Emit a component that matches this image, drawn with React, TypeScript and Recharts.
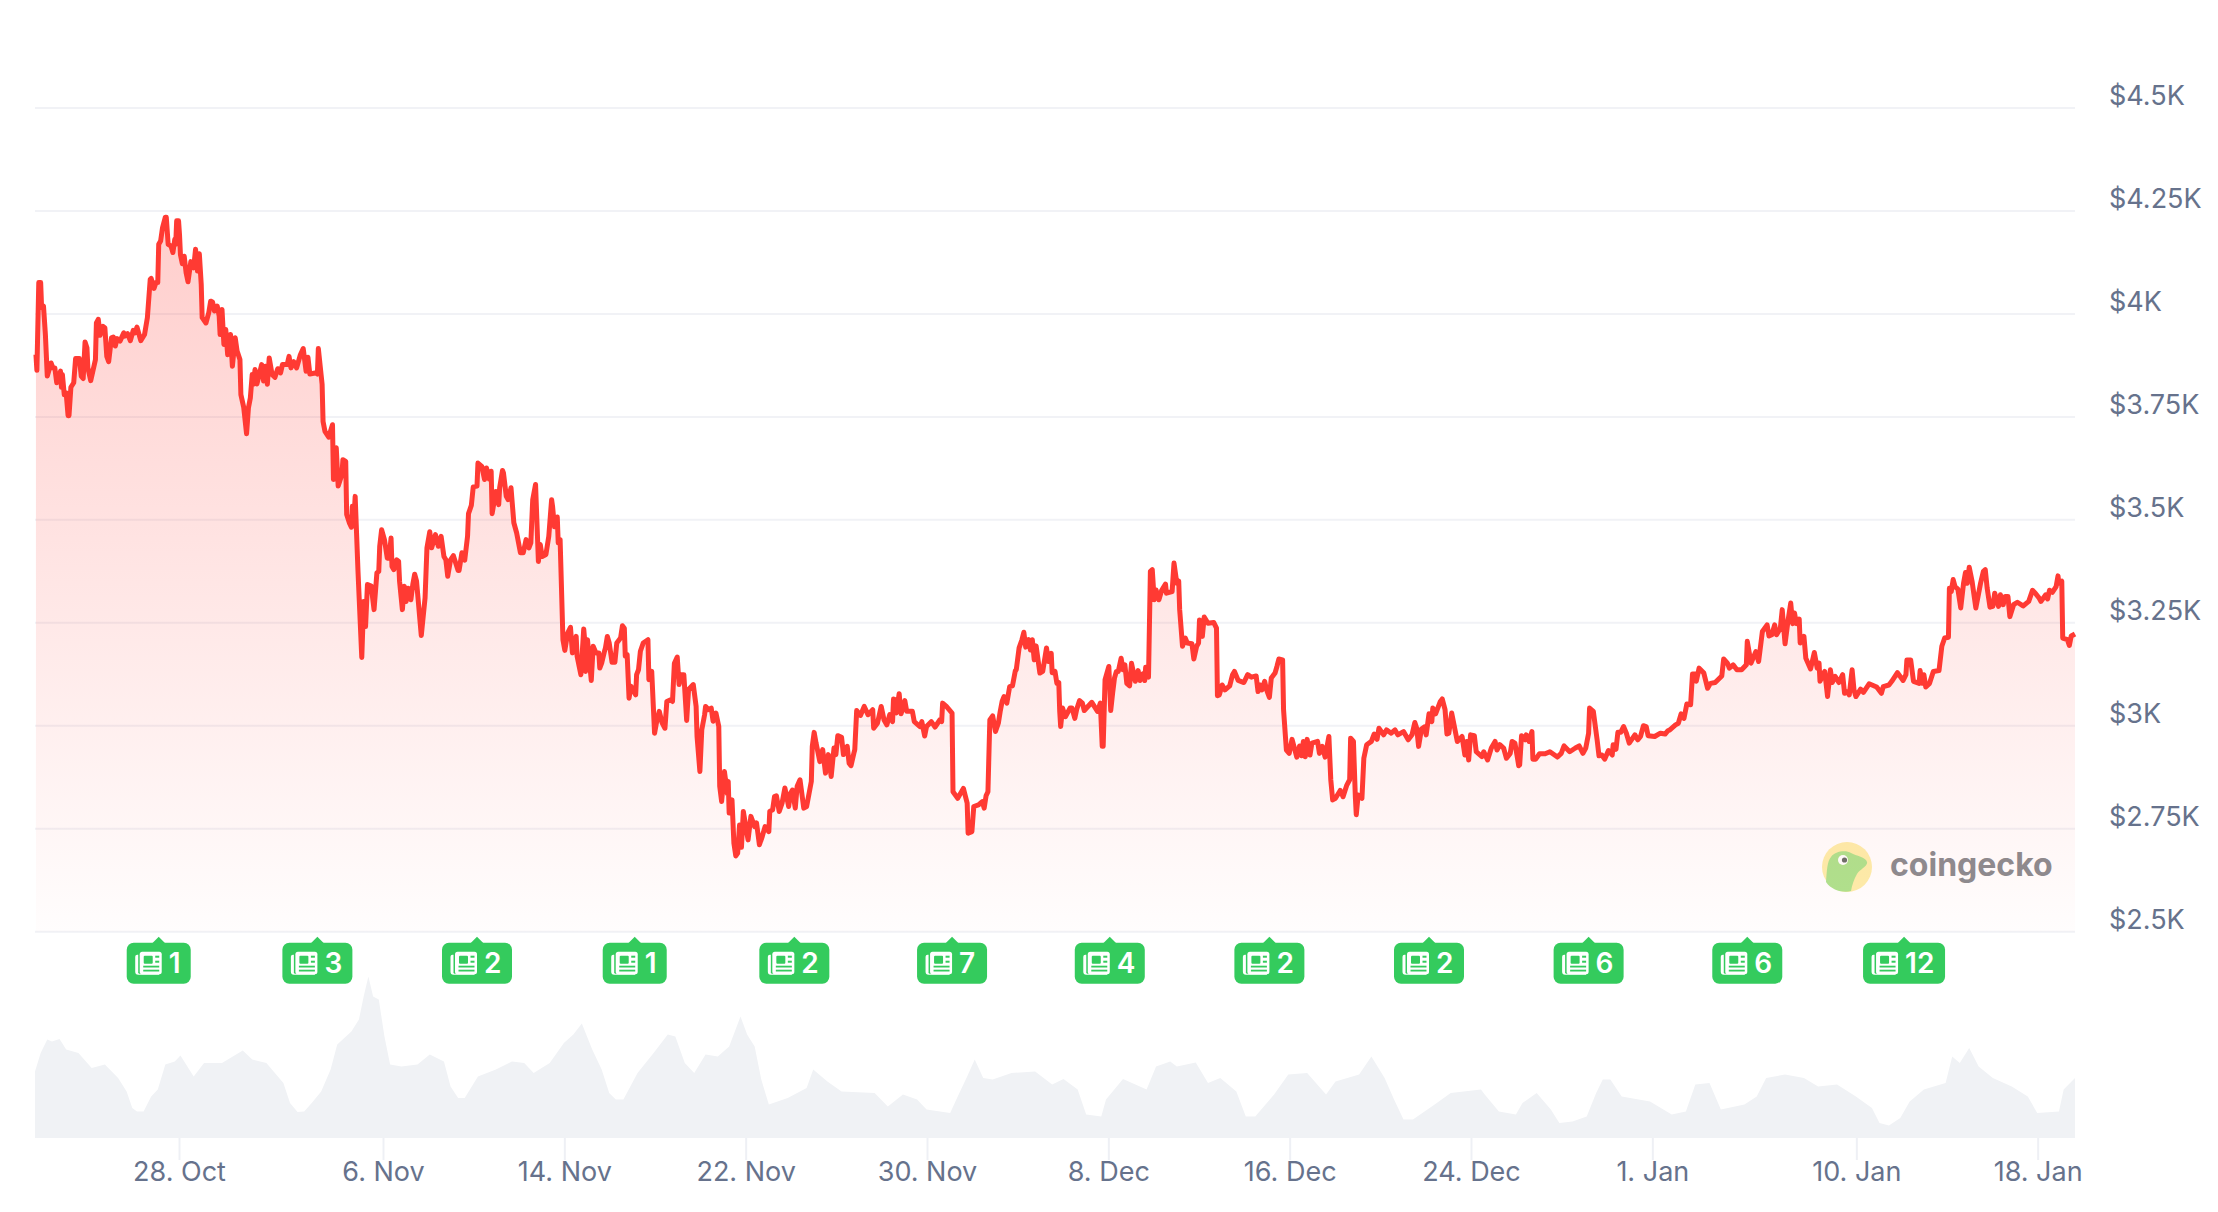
import { Area, CartesianGrid, ComposedChart, Scatter, XAxis, YAxis } from "recharts";

// [hours since the left edge of the chart, price in USD]
const priceFromOct22: [number, number][] = [
  [1, 3901], [2, 3863], [4, 4076], [6, 4076], [7, 4015], [9, 4019], [11, 3950], [13, 3849], [17, 3881], [19, 3869],
  [21, 3869], [23, 3833], [27, 3861], [28, 3822], [29, 3853], [31, 3804], [33, 3808], [35, 3753], [36, 3753], [38, 3822],
  [41, 3833], [43, 3892], [47, 3892], [49, 3849], [51, 3843], [53, 3932], [55, 3918], [56, 3869], [59, 3838], [64, 3889],
  [65, 3978], [67, 3987], [69, 3948], [72, 3970], [74, 3966], [76, 3897], [78, 3884], [81, 3942], [83, 3944], [85, 3922],
  [87, 3940], [90, 3934], [94, 3954], [95, 3946], [98, 3952], [101, 3935], [104, 3960], [106, 3954], [108, 3968], [112, 3935],
  [116, 3950], [119, 3991], [122, 4084], [123, 4086], [126, 4062], [128, 4076], [130, 4076], [131, 4169], [133, 4177], [135, 4209],
  [138, 4235], [139, 4235], [141, 4169], [144, 4165], [146, 4149], [148, 4181], [149, 4169], [150, 4226], [152, 4226], [153, 4193],
  [154, 4144], [156, 4122], [158, 4140], [160, 4100], [162, 4078], [165, 4127], [168, 4112], [170, 4157], [172, 4104], [174, 4146],
  [176, 4072], [177, 3991], [181, 3978], [184, 4003], [186, 4031], [188, 4029], [190, 4007], [193, 4019], [195, 3995], [196, 3950],
  [198, 4011], [200, 3926], [202, 3962], [204, 3901], [207, 3950], [209, 3873], [212, 3942], [214, 3910], [217, 3889], [218, 3804],
  [221, 3773], [224, 3709], [226, 3772], [228, 3796], [230, 3853], [231, 3829], [233, 3865], [235, 3830], [240, 3877], [242, 3837],
  [244, 3873], [246, 3829], [248, 3893], [251, 3853], [254, 3846], [257, 3867], [260, 3857], [262, 3877], [267, 3877], [269, 3897],
  [271, 3869], [274, 3884], [277, 3869], [281, 3901], [284, 3916], [287, 3861], [289, 3895], [291, 3854], [298, 3857], [299, 3854],
  [300, 3916], [304, 3829], [305, 3739], [307, 3715], [311, 3701], [315, 3731], [316, 3598], [319, 3675], [321, 3582], [325, 3610],
  [326, 3646], [329, 3642], [330, 3513], [333, 3492], [335, 3482], [336, 3533], [338, 3513], [339, 3557], [342, 3375], [346, 3166],
  [348, 3302], [350, 3241], [352, 3343], [356, 3339], [359, 3282], [362, 3371], [364, 3375], [365, 3436], [367, 3476], [370, 3452],
  [373, 3407], [375, 3407], [377, 3456], [378, 3387], [380, 3379], [383, 3403], [385, 3399], [386, 3351], [389, 3282], [391, 3339],
  [393, 3302], [395, 3334], [398, 3306], [400, 3343], [402, 3368], [404, 3351], [409, 3219], [413, 3310], [415, 3432], [418, 3471],
  [420, 3432], [424, 3464], [427, 3436],
];

const priceFromNov8: [number, number][] = [
  [430, 3460], [433, 3411], [435, 3403], [437, 3363], [440, 3403], [443, 3413], [448, 3377], [449, 3377], [452, 3420], [455, 3402],
  [458, 3460], [459, 3515], [462, 3535], [464, 3580], [468, 3582], [469, 3638], [473, 3630], [476, 3598], [478, 3626], [481, 3599],
  [483, 3618], [484, 3515], [488, 3569], [491, 3537], [492, 3578], [495, 3620], [496, 3614], [499, 3557], [501, 3549], [504, 3578],
  [507, 3493], [510, 3468], [514, 3420], [517, 3420], [520, 3452], [523, 3432], [525, 3444], [527, 3549], [530, 3586], [533, 3399],
  [535, 3440], [537, 3411], [541, 3416], [544, 3460], [547, 3549], [548, 3533], [550, 3483], [553, 3507], [554, 3444], [556, 3452],
  [559, 3209], [561, 3183], [564, 3225], [567, 3239], [569, 3177], [573, 3217], [574, 3169], [578, 3124], [581, 3235], [582, 3209],
  [583, 3132], [585, 3209], [589, 3110], [591, 3193], [594, 3177], [597, 3177], [598, 3140], [600, 3152], [603, 3181], [604, 3189],
  [606, 3217], [608, 3201], [611, 3154], [613, 3169], [614, 3154], [616, 3201], [620, 3213], [622, 3243], [624, 3237], [625, 3169],
  [627, 3173], [629, 3067], [631, 3096], [636, 3075], [637, 3124], [639, 3136], [641, 3181], [644, 3201], [649, 3209], [650, 3112],
  [653, 3132], [656, 2982], [658, 3007], [661, 3035], [664, 3007], [667, 2994], [669, 3059], [673, 3063], [675, 3059], [677, 3152],
  [680, 3167], [682, 3100], [684, 3124], [687, 3124], [690, 3013], [692, 3088], [697, 3100], [700, 3047], [701, 2974], [704, 2889],
  [706, 2990], [709, 3027], [710, 3047], [713, 3039], [716, 3043], [718, 3011], [721, 3031], [724, 2998], [725, 2853], [727, 2816],
  [730, 2889], [733, 2836], [734, 2865], [735, 2788], [738, 2820], [740, 2715], [742, 2684], [744, 2691], [746, 2759], [748, 2705],
  [750, 2792], [752, 2764], [755, 2723], [758, 2780], [762, 2755], [764, 2764], [767, 2711], [770, 2731], [773, 2755], [777, 2743],
  [778, 2792], [781, 2796], [783, 2828], [785, 2830], [788, 2792], [791, 2812], [794, 2849], [798, 2804], [800, 2836], [802, 2844],
  [805, 2800], [807, 2853], [810, 2869], [814, 2800], [817, 2804], [822, 2865], [823, 2950], [825, 2984], [827, 2958], [831, 2913],
  [834, 2942], [837, 2885], [840, 2930], [843, 2877], [846, 2946], [848, 2930], [850, 2976], [854, 2972], [856, 2930], [860, 2950],
  [862, 2909],
];

const priceFromNov26: [number, number][] = [
  [864, 2903], [867, 2933], [868, 2942], [870, 3037], [874, 3025], [878, 3047], [882, 3027], [887, 3039], [888, 2994], [892, 3006],
  [896, 3047], [899, 3014], [902, 3002], [905, 3027], [908, 3010], [909, 3065], [911, 3063], [912, 3031], [915, 3078], [917, 3029],
  [921, 3061], [923, 3035], [929, 3035], [931, 3010], [937, 2998], [939, 3010], [942, 2975], [944, 2998], [949, 3010], [953, 2997],
  [958, 3014], [960, 3010], [961, 3055], [965, 3047], [971, 3031], [972, 2840], [977, 2824], [983, 2848], [987, 2812], [988, 2739],
  [992, 2743], [994, 2804], [999, 2808], [1003, 2816], [1005, 2800], [1007, 2830], [1009, 2840], [1011, 3014], [1014, 3024], [1017, 2986],
  [1020, 3006], [1022, 3035], [1024, 3059], [1026, 3071], [1029, 3055], [1032, 3095], [1035, 3097], [1038, 3134], [1039, 3136], [1042, 3189],
  [1045, 3209], [1047, 3227], [1049, 3191], [1052, 3209], [1054, 3184], [1056, 3209], [1058, 3160], [1060, 3194], [1064, 3128], [1067, 3132],
  [1071, 3189], [1073, 3156], [1076, 3176], [1077, 3129], [1080, 3132], [1082, 3103], [1084, 3105], [1085, 3035], [1086, 2998], [1088, 3043],
  [1091, 3022], [1096, 3043], [1098, 3043], [1101, 3018], [1103, 3040], [1106, 3061], [1109, 3055], [1111, 3037], [1119, 3057], [1125, 3035],
  [1128, 3055], [1130, 2950], [1131, 2950], [1133, 3112], [1137, 3144], [1139, 3037], [1141, 3079], [1143, 3116], [1145, 3132], [1147, 3132],
  [1150, 3164], [1152, 3136], [1154, 3148], [1156, 3103], [1159, 3097], [1161, 3152], [1165, 3108], [1168, 3134], [1170, 3110], [1173, 3126],
  [1175, 3110], [1176, 3142], [1179, 3118], [1181, 3375], [1183, 3379], [1185, 3306], [1187, 3330], [1190, 3306], [1193, 3329], [1197, 3344],
  [1198, 3322], [1204, 3326], [1206, 3395], [1209, 3346], [1211, 3351], [1212, 3282], [1215, 3193], [1218, 3213], [1220, 3201], [1225, 3199],
  [1227, 3162], [1230, 3193], [1232, 3201], [1233, 3257], [1236, 3217], [1238, 3264], [1242, 3249], [1248, 3251], [1251, 3237], [1252, 3073],
  [1254, 3075], [1257, 3099], [1260, 3087], [1265, 3097], [1268, 3124], [1270, 3132], [1274, 3110], [1280, 3105], [1284, 3124], [1288, 3118],
  [1293, 3121], [1295, 3083],
];

const priceFromDec14: [number, number][] = [
  [1297, 3099], [1299, 3087], [1302, 3108], [1304, 3087], [1307, 3069], [1309, 3116], [1313, 3128], [1315, 3144], [1317, 3162], [1321, 3160],
  [1322, 3039], [1325, 2941], [1328, 2933], [1331, 2967], [1333, 2950], [1336, 2924], [1339, 2951], [1341, 2927], [1343, 2962], [1345, 2925],
  [1347, 2967], [1350, 2929], [1352, 2958], [1358, 2962], [1360, 2933], [1363, 2950], [1366, 2924], [1370, 2974], [1372, 2869], [1374, 2820],
  [1377, 2824], [1382, 2843], [1385, 2828], [1389, 2856], [1392, 2869], [1393, 2970], [1396, 2962], [1398, 2828], [1399, 2784], [1401, 2832],
  [1405, 2824], [1407, 2921], [1410, 2954], [1415, 2962], [1418, 2980], [1421, 2967], [1423, 2994], [1428, 2978], [1431, 2990], [1436, 2982],
  [1440, 2990], [1443, 2978], [1449, 2986], [1454, 2966], [1458, 2978], [1461, 3008], [1463, 2994], [1465, 2950], [1468, 2992], [1471, 2997],
  [1473, 2978], [1476, 3029], [1479, 3010], [1480, 3043], [1483, 3029], [1488, 3059], [1490, 3065], [1493, 3039], [1495, 2980], [1497, 2982],
  [1500, 3031], [1506, 2962], [1511, 2974], [1514, 2929], [1516, 2962], [1518, 2917], [1520, 2978], [1524, 2976], [1526, 2937], [1532, 2925],
  [1534, 2937], [1538, 2917], [1542, 2946], [1546, 2962], [1548, 2941], [1551, 2954], [1555, 2946], [1558, 2921], [1562, 2933], [1564, 2962],
  [1567, 2958], [1571, 2903], [1572, 2905], [1574, 2976], [1578, 2966], [1579, 2978], [1582, 2962], [1585, 2986], [1586, 2919], [1589, 2919],
  [1593, 2932], [1599, 2932], [1604, 2937], [1612, 2924], [1616, 2933], [1619, 2951], [1625, 2937], [1631, 2946], [1635, 2951], [1639, 2933],
  [1642, 2946], [1645, 2982], [1646, 3043], [1650, 3035], [1654, 2966], [1656, 2927], [1659, 2929], [1662, 2919], [1666, 2940], [1670, 2929],
  [1671, 2954], [1674, 2943], [1676, 2984], [1679, 2984], [1682, 2998], [1685, 2982], [1688, 2958], [1694, 2978], [1697, 2966], [1700, 2974],
  [1703, 3000], [1706, 2998], [1708, 2976], [1715, 2974], [1721, 2982], [1726, 2980], [1729, 2988],
];

const priceFromJan2: [number, number][] = [
  [1731, 2990], [1737, 3002], [1740, 3006], [1743, 3029], [1746, 3018], [1749, 3053], [1753, 3051], [1755, 3126], [1758, 3126], [1759, 3108],
  [1762, 3140], [1767, 3128], [1771, 3091], [1774, 3103], [1779, 3105], [1786, 3121], [1788, 3162], [1792, 3152], [1794, 3140], [1798, 3148],
  [1802, 3136], [1807, 3136], [1812, 3148], [1813, 3205], [1817, 3152], [1822, 3180], [1825, 3156], [1829, 3229], [1834, 3245], [1836, 3218],
  [1839, 3221], [1842, 3245], [1844, 3221], [1848, 3237], [1850, 3282], [1853, 3199], [1856, 3253], [1859, 3298], [1861, 3248], [1863, 3274],
  [1865, 3248], [1868, 3259], [1869, 3201], [1873, 3217], [1875, 3164], [1880, 3138], [1884, 3178], [1887, 3140], [1889, 3152], [1890, 3108],
  [1895, 3132], [1898, 3071], [1901, 3136], [1903, 3105], [1906, 3120], [1910, 3105], [1914, 3124], [1916, 3079], [1919, 3083], [1921, 3075],
  [1924, 3136], [1926, 3087], [1928, 3071], [1933, 3089], [1936, 3081], [1942, 3102], [1950, 3094], [1955, 3079], [1957, 3095], [1963, 3099],
  [1966, 3108], [1972, 3129], [1978, 3110], [1981, 3124], [1982, 3160], [1986, 3160], [1989, 3108], [1995, 3103], [1996, 3134], [1998, 3103],
  [2000, 3124], [2002, 3094], [2006, 3103], [2010, 3132], [2016, 3134], [2019, 3193], [2022, 3213], [2026, 3215], [2027, 3334], [2029, 3326],
  [2031, 3355], [2033, 3338], [2036, 3332], [2039, 3286], [2042, 3346], [2044, 3372], [2046, 3346], [2048, 3385], [2051, 3351], [2055, 3286],
  [2060, 3346], [2063, 3375], [2065, 3379], [2067, 3334], [2070, 3288], [2073, 3290], [2075, 3322], [2079, 3290], [2081, 3318], [2084, 3294],
  [2086, 3314], [2089, 3314], [2091, 3265], [2095, 3294], [2099, 3300], [2105, 3291], [2111, 3302], [2115, 3329], [2118, 3322], [2122, 3310],
  [2124, 3302], [2129, 3318], [2131, 3308], [2133, 3329], [2136, 3324], [2140, 3338], [2142, 3364], [2143, 3346], [2146, 3351], [2147, 3213],
  [2152, 3209], [2154, 3195], [2156, 3218], [2160, 3223],
];

// [hours since the left edge, volume in $B, estimated]
const volumeFromOct22: [number, number][] = [
  [0, 13.3], [6, 17], [13, 19.7], [18, 19.3], [26, 19.8], [33, 17.7], [46, 17], [60, 14], [74, 14.7], [88, 12],
  [97, 9.3], [103, 6], [108, 5.3], [115, 5.3], [123, 8.3], [130, 9.7], [138, 14.7], [148, 15.3], [154, 16.5], [168, 12.3],
  [179, 15], [198, 15], [220, 17.5], [230, 15.7], [245, 15], [263, 11], [270, 7], [278, 5.2], [285, 5.3], [293, 7],
  [303, 9.3], [313, 13.7], [320, 18.7], [335, 21.3], [343, 23.7], [348, 28.3], [353, 32.3], [358, 28.3], [364, 27.7], [370, 20.3],
  [376, 14.7], [388, 14.3], [405, 14.7], [418, 16.7], [433, 15.3], [440, 10.3], [448, 8], [455, 8], [469, 12.3], [488, 13.7],
  [505, 15.3], [518, 15], [528, 13], [545, 15], [560, 19], [570, 20.7], [579, 22.9], [590, 17.7], [600, 13.7], [608, 9],
  [615, 7.7], [623, 7.7], [638, 13], [655, 17], [670, 20.7], [678, 20.3], [688, 15], [698, 13], [710, 16.7], [723, 16.3],
  [735, 18.3], [747, 24.3],
];

const volumeFromNov22: [number, number][] = [
  [754, 20.7], [762, 18.3], [769, 11.7], [777, 6.7], [797, 8], [817, 10], [824, 13.7], [839, 11.3], [854, 9.3], [889, 9],
  [903, 6.3], [919, 8.7], [934, 7.7], [944, 5.7], [969, 5], [977, 8.3], [987, 12.3], [995, 15.7], [1004, 12], [1014, 11.7],
  [1034, 13], [1059, 13.3], [1077, 10.7], [1089, 11.8], [1104, 9.7], [1113, 4.7], [1129, 4.3], [1134, 7.7], [1152, 11.8], [1177, 9.7],
  [1187, 14.3], [1202, 15.3], [1209, 14.3], [1229, 15.1], [1242, 11], [1255, 12], [1272, 9.3], [1282, 4.3], [1292, 4.3], [1312, 8.7],
  [1327, 12.7], [1347, 13], [1367, 8.7], [1377, 11.3], [1402, 12.7], [1415, 16.3], [1429, 12], [1439, 7.7], [1449, 3.7], [1459, 3.7],
  [1482, 6.7], [1499, 9], [1531, 9.7],
];

const volumeFromDec24: [number, number][] = [
  [1535, 8.7], [1550, 5.3], [1568, 4.7], [1575, 7], [1590, 9], [1605, 5.7], [1614, 3], [1628, 3.3], [1643, 4.3], [1653, 9],
  [1660, 11.7], [1668, 11.7], [1680, 8.3], [1710, 7.3], [1733, 4.7], [1748, 5.3], [1758, 10.7], [1773, 11], [1785, 5.7], [1810, 6.7],
  [1823, 8.3], [1833, 12], [1853, 12.7], [1873, 12], [1888, 10.3], [1908, 10.7], [1928, 8.3], [1945, 6], [1953, 3], [1963, 2.5],
  [1975, 4], [1985, 7.3], [2000, 9.7], [2023, 11], [2030, 16.3], [2038, 15], [2048, 18], [2058, 14.3], [2073, 12], [2093, 10.3],
  [2110, 8.3], [2120, 5], [2143, 5.3], [2148, 9.7], [2160, 12],
];

const priceTicks = [2500, 2750, 3000, 3250, 3500, 3750, 4000, 4250, 4500];
const priceTickLabels = ["$2.5K", "$2.75K", "$3K", "$3.25K", "$3.5K", "$3.75K", "$4K", "$4.25K", "$4.5K"];
const dateTicks = [153, 369, 561, 753, 945, 1137, 1329, 1521, 1713, 1929, 2121];
const dateTickLabels = ["28. Oct", "6. Nov", "14. Nov", "22. Nov", "30. Nov", "8. Dec", "16. Dec", "24. Dec", "1. Jan", "10. Jan", "18. Jan"];
const newsHours = [131, 299, 468, 635, 804, 971, 1138, 1307, 1476, 1645, 1813, 1979];
const newsCounts = [1, 3, 2, 1, 2, 7, 4, 2, 2, 6, 6, 12];

const priceRows = [...priceFromOct22, ...priceFromNov8, ...priceFromNov26, ...priceFromDec14, ...priceFromJan2].map(
  ([hour, price]) => ({ hour, price })
);
const volumeRows = [...volumeFromOct22, ...volumeFromNov22, ...volumeFromDec24].map(([hour, volume]) => ({ hour, volume }));
const newsRows = newsHours.map((hour, i) => ({ hour, price: 2500, count: newsCounts[i] }));

const FONT = "Inter, sans-serif";
const LABEL = "#66728c";
const GRID = "#f1f2f6";
const RED = "#ff3a33";
const GREEN = "#34cb5d";

function NewsBadge(props: any) {
  const { cx, cy, payload } = props;
  const count = String(payload.count);
  const w = count === "1" ? 64 : count.length > 1 ? 82 : 70;
  const left = cx - w / 2;
  const top = cy + 11;
  const ix = left + 8.5;
  const iy = top + 9;
  return (
    <g>
      <path d={`M${cx - 7} ${top + 1} L${cx} ${top - 6} L${cx + 7} ${top + 1} Z`} fill={GREEN} />
      <rect x={left} y={top} width={w} height={41} rx={7} fill={GREEN} />
      {/* newspaper icon */}
      <path
        d={`M${ix + 3} ${iy + 3} h-1 a2 2 0 0 0 -2 2 v15 a3 3 0 0 0 3 3 h21 v-1 h-20 a1.5 1.5 0 0 1 -1 -2 Z`}
        fill="#fff"
      />
      <rect x={ix + 4.5} y={iy} width={22} height={22.5} rx={2.5} fill="#fff" />
      <rect x={ix + 8.5} y={iy + 4} width={9} height={8} rx={1} fill={GREEN} />
      <rect x={ix + 20} y={iy + 4} width={4} height={2} fill={GREEN} />
      <rect x={ix + 20} y={iy + 9} width={4} height={2} fill={GREEN} />
      <rect x={ix + 8} y={iy + 14} width={16} height={1.8} fill={GREEN} />
      <rect x={ix + 8} y={iy + 18} width={16} height={1.8} fill={GREEN} />
      <text x={left + 42} y={top + 30.5} fill="#fff" fontFamily={FONT} fontWeight={600} fontSize={28}>
        {count}
      </text>
    </g>
  );
}

function PriceTick(props: any) {
  const { x, y, index } = props;
  return (
    <text x={x + 32} y={y - 3} fill={LABEL} fontFamily={FONT} fontSize={27} textAnchor="start">
      {priceTickLabels[index]}
    </text>
  );
}

function DateTick(props: any) {
  const { x, y, index } = props;
  return (
    <text x={x} y={y + 19} fill={LABEL} fontFamily={FONT} fontSize={27} textAnchor="middle">
      {dateTickLabels[index]}
    </text>
  );
}

function Watermark() {
  return (
    <div style={{ position: "absolute", left: 1822, top: 842, width: 240, height: 50 }}>
      <svg width={50} height={50} style={{ position: "absolute", left: 0, top: 0 }}>
        <circle cx={25} cy={25} r={25} fill="#fdeeab" />
        <path
          d="M4 40 C5 28 5 20 9 15 C13 9 24 8 29 11 C34 14 44 15 45 20 C46 24 38 27 35 32 C32 37 30 43 29 49 C22 51 10 49 4 40 Z"
          fill="#aee38e"
        />
        <circle cx={21} cy={18} r={5} fill="#fff" />
        <circle cx={22.5} cy={18} r={2.6} fill="#6a6f6a" />
      </svg>
      <div
        style={{
          position: "absolute",
          left: 68,
          top: 3,
          fontFamily: FONT,
          fontWeight: 700,
          fontSize: 32,
          lineHeight: "40px",
          color: "#8b8c90",
        }}
      >
        coingecko
      </div>
    </div>
  );
}

export default function App() {
  return (
    <div style={{ position: "absolute", left: 0, top: 0, width: 2218, height: 1212, background: "#fff", overflow: "hidden" }}>
      <div style={{ position: "absolute", left: 0, top: 958 }}>
        <ComposedChart width={2218} height={254} data={volumeRows} margin={{ top: 0, right: 143, bottom: 0, left: 35 }}>
          <XAxis
            dataKey="hour"
            type="number"
            domain={[0, 2160]}
            ticks={dateTicks}
            interval={0}
            height={74}
            axisLine={false}
            tickSize={22}
            tickLine={{ stroke: "#eef0f5", strokeWidth: 2 }}
            tick={<DateTick />}
          />
          <YAxis hide domain={[0, 36]} />
          <Area
            type="linear"
            dataKey="volume"
            stroke="none"
            fill="#f0f2f5"
            fillOpacity={1}
            dot={false}
            activeDot={false}
            isAnimationActive={false}
          />
        </ComposedChart>
      </div>
      <Watermark />
      <div style={{ position: "absolute", left: 0, top: 0 }}>
        <ComposedChart width={2218} height={1000} margin={{ top: 108, right: 0, bottom: 68.3, left: 35 }}>
          <defs>
            <linearGradient id="priceFill" x1="0" y1="0" x2="0" y2="1">
              <stop offset="0%" stopColor={RED} stopOpacity={0.25} />
              <stop offset="100%" stopColor={RED} stopOpacity={0.01} />
            </linearGradient>
          </defs>
          <CartesianGrid vertical={false} stroke={GRID} strokeWidth={2} />
          <XAxis dataKey="hour" type="number" domain={[0, 2160]} hide />
          <YAxis
            orientation="right"
            width={143}
            domain={[2500, 4500]}
            ticks={priceTicks}
            interval={0}
            axisLine={false}
            tickLine={false}
            tickSize={0}
            tick={<PriceTick />}
          />
          <Area
            data={priceRows}
            type="linear"
            dataKey="price"
            stroke={RED}
            strokeWidth={5}
            strokeLinejoin="round"
            fill="url(#priceFill)"
            fillOpacity={1}
            dot={false}
            activeDot={false}
            isAnimationActive={false}
          />
          <Scatter data={newsRows} dataKey="price" shape={<NewsBadge />} isAnimationActive={false} />
        </ComposedChart>
      </div>
    </div>
  );
}
